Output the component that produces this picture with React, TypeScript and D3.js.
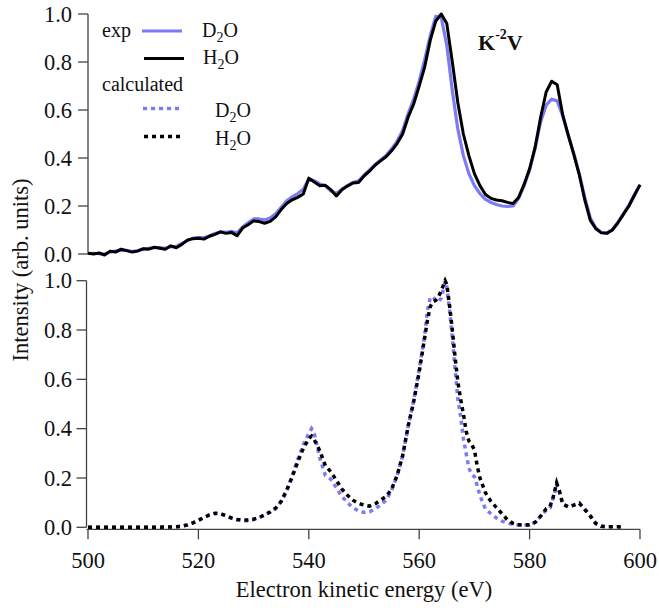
import React from "react";
import * as d3 from "d3";

// Experimental K^-2V Auger spectra, 1 eV grid from 500 to 600 eV
const expEnergy = d3.range(500, 601, 1);

const expH2O = [
  0.003, 0.0, 0.004, -0.004, 0.012, 0.008, 0.02, 0.014, 0.008, 0.012,
  0.022, 0.02, 0.028, 0.024, 0.02, 0.034, 0.026, 0.04, 0.058, 0.064,
  0.066, 0.062, 0.074, 0.082, 0.092, 0.086, 0.09, 0.076, 0.108, 0.122,
  0.138, 0.135, 0.128, 0.136, 0.155, 0.185, 0.21, 0.226, 0.236, 0.25,
  0.316, 0.3, 0.284, 0.286, 0.268, 0.242, 0.268, 0.283, 0.296, 0.298,
  0.325, 0.345, 0.37, 0.388, 0.405, 0.43, 0.46, 0.5, 0.57, 0.625,
  0.7, 0.78, 0.89, 0.97, 1.0, 0.96, 0.8, 0.63, 0.5, 0.41,
  0.335, 0.285, 0.248, 0.232, 0.225, 0.222, 0.215, 0.21, 0.235, 0.29,
  0.355, 0.445, 0.57, 0.675, 0.72, 0.705, 0.58, 0.495, 0.415, 0.33,
  0.225, 0.14, 0.105, 0.088, 0.086, 0.1, 0.13, 0.165, 0.2, 0.245,
  0.288,
];

const expD2O = [
  0.002, 0.003, 0.001, 0.0, 0.008, 0.012, 0.016, 0.015, 0.01, 0.014,
  0.02, 0.024, 0.026, 0.027, 0.024, 0.03, 0.032, 0.044, 0.056, 0.066,
  0.068, 0.068, 0.076, 0.085, 0.092, 0.09, 0.094, 0.088, 0.112, 0.13,
  0.146, 0.146, 0.142, 0.15, 0.168, 0.195, 0.222, 0.238, 0.252, 0.27,
  0.312, 0.305, 0.292, 0.284, 0.262, 0.252, 0.27, 0.285, 0.298, 0.305,
  0.328, 0.35, 0.372, 0.392, 0.41, 0.438, 0.47, 0.515, 0.585, 0.645,
  0.72, 0.81, 0.91, 0.99, 0.985, 0.87, 0.68, 0.52, 0.41, 0.335,
  0.285, 0.252, 0.228, 0.215, 0.206, 0.2, 0.198, 0.2, 0.232, 0.285,
  0.35, 0.44, 0.55, 0.62, 0.645, 0.638, 0.575, 0.495, 0.42, 0.335,
  0.235, 0.15, 0.108, 0.09, 0.088, 0.102, 0.132, 0.168, 0.205, 0.248,
  0.29,
];

// Calculated spectra
const calcEnergy = [
  500, 505, 510, 515, 517, 518, 519, 520, 521, 522, 523, 524, 525, 526, 527,
  528, 529, 530, 531, 532, 533, 534, 535, 536, 537, 538, 539, 540, 540.5, 541,
  542, 543, 544, 545, 546, 547, 548, 549, 550, 551, 552, 553, 554, 555, 556,
  557, 558, 559, 560, 561, 561.5, 562, 562.5, 563, 563.5, 564, 564.7, 565,
  565.5, 566, 566.5, 567, 567.5, 568, 568.5, 569, 569.5, 570, 570.5, 571,
  571.5, 572, 573, 574, 575, 576, 577, 578, 579, 580, 581, 582, 583, 583.7,
  584.3, 584.9, 585.5, 586, 587, 588, 589, 590, 591, 592, 593, 594, 595, 596,
  596.7,
];

const calcH2O = [
  0, 0, 0, 0.001, 0.004, 0.01, 0.018, 0.028, 0.04, 0.05, 0.056, 0.055, 0.047,
  0.038, 0.032, 0.03, 0.03, 0.033, 0.04, 0.05, 0.062, 0.078, 0.105, 0.15,
  0.205, 0.265, 0.32, 0.36, 0.37, 0.355, 0.31, 0.25, 0.225, 0.19, 0.155, 0.13,
  0.11, 0.097, 0.09, 0.086, 0.095, 0.11, 0.125, 0.155, 0.21, 0.29, 0.41, 0.51,
  0.63, 0.77, 0.84, 0.895, 0.915, 0.92, 0.935, 0.96, 1.0, 0.985, 0.9, 0.8,
  0.69, 0.59, 0.52, 0.46, 0.39, 0.35, 0.335, 0.315, 0.25, 0.2, 0.17, 0.14,
  0.105, 0.08, 0.055, 0.03, 0.016, 0.01, 0.009, 0.01, 0.02, 0.045, 0.075,
  0.085, 0.125, 0.18, 0.14, 0.095, 0.083, 0.09, 0.098, 0.072, 0.045, 0.015,
  0.004, 0.002, 0.002, 0.002, 0.001,
];

const calcD2O = [
  0, 0, 0, 0.001, 0.004, 0.01, 0.018, 0.028, 0.04, 0.05, 0.058, 0.056, 0.046,
  0.036, 0.03, 0.027, 0.027, 0.031, 0.039, 0.05, 0.062, 0.076, 0.105, 0.15,
  0.21, 0.275, 0.335, 0.38, 0.4, 0.38, 0.28, 0.21, 0.195, 0.16, 0.125, 0.1,
  0.08, 0.067, 0.06, 0.063, 0.075, 0.09, 0.11, 0.15, 0.21, 0.29, 0.41, 0.515,
  0.64, 0.78, 0.88, 0.93, 0.935, 0.92, 0.915, 0.93, 0.995, 0.975, 0.88, 0.77,
  0.64, 0.52, 0.45, 0.36, 0.3, 0.24, 0.215, 0.205, 0.17, 0.13, 0.1, 0.075,
  0.055, 0.038, 0.025, 0.017, 0.012, 0.01, 0.009, 0.01, 0.02, 0.045, 0.07,
  0.078, 0.12, 0.175, 0.135, 0.092, 0.083, 0.09, 0.098, 0.075, 0.048, 0.016,
  0.004, 0.002, 0.002, 0.002, 0.001,
];

const xTicks = [500, 520, 540, 560, 580, 600];
const yTicks = [0, 0.2, 0.4, 0.6, 0.8, 1.0];

const W = 659;
const H = 608;
const BLUE = "#7b7bf5";
const AXIS = "#444";
const TXT = { fontFamily: '"Liberation Serif"' };

const x = d3.scaleLinear().domain([500, 600]).range([88, 640]);
const yTop = d3.scaleLinear().domain([0, 1]).range([254, 14]);
const yBot = d3.scaleLinear().domain([0, 1]).range([527.3, 280.7]);

function path(
  xs: number[],
  ys: number[],
  y: d3.ScaleLinear<number, number>
): string {
  const pts = xs.map((e, i) => [e, ys[i]] as [number, number]);
  return (
    d3
      .line<[number, number]>()
      .x((d) => x(d[0]))
      .y((d) => y(d[1]))(pts) || ""
  );
}

function YAxis({ y, axisX }: { y: d3.ScaleLinear<number, number>; axisX: number }) {
  const fmt = d3.format(".1f");
  return (
    <g>
      <line x1={axisX} x2={axisX} y1={y(1)} y2={y(0)} stroke={AXIS} strokeWidth={1.3} />
      {yTicks.map((t) => (
        <g key={t}>
          <line x1={axisX - 10} x2={axisX} y1={y(t)} y2={y(t)} stroke={AXIS} strokeWidth={1.3} />
          <text x={72} y={y(t)} dy="0.34em" textAnchor="end" fontSize={22.5} fill="#111" style={TXT}>
            {fmt(t)}
          </text>
        </g>
      ))}
    </g>
  );
}

function Chem({ a, b, x: tx, y: ty }: { a: string; b: string; x: number; y: number }) {
  return (
    <text x={tx} y={ty} fontSize={20} fill="#111" style={TXT}>
      {a}
      <tspan fontSize={14} dy={5}>
        2
      </tspan>
      <tspan dy={-5}>{b}</tspan>
    </text>
  );
}

export default function App() {
  const axisY = 529.3;
  return (
    <svg width={W} height={H} style={{ position: "absolute", left: 0, top: 0, background: "#fff" }}>
      {/* top panel: experiment */}
      <YAxis y={yTop} axisX={88} />
      <path d={path(expEnergy, expD2O, yTop)} fill="none" stroke={BLUE} strokeWidth={3.2} strokeLinejoin="round" />
      <path d={path(expEnergy, expH2O, yTop)} fill="none" stroke="#000" strokeWidth={3} strokeLinejoin="round" />

      {/* bottom panel: calculation */}
      <YAxis y={yBot} axisX={86.5} />
      <line x1={86.5} x2={640} y1={axisY} y2={axisY} stroke={AXIS} strokeWidth={1.3} />
      {xTicks.map((t) => (
        <g key={t}>
          <line x1={x(t)} x2={x(t)} y1={axisY} y2={axisY + 10} stroke={AXIS} strokeWidth={1.3} />
          <text x={x(t)} y={568} textAnchor="middle" fontSize={22.5} fill="#111" style={TXT}>
            {t}
          </text>
        </g>
      ))}
      <path d={path(calcEnergy, calcD2O, yBot)} fill="none" stroke={BLUE} strokeWidth={3.5} strokeDasharray="4 4" />
      <path d={path(calcEnergy, calcH2O, yBot)} fill="none" stroke="#000" strokeWidth={3.5} strokeDasharray="4 4" />

      {/* axis titles */}
      <text x={364} y={597} textAnchor="middle" fontSize={22.5} fill="#111" style={TXT}>
        Electron kinetic energy (eV)
      </text>
      <text
        transform="translate(28,270) rotate(-90)"
        textAnchor="middle"
        fontSize={22.5}
        fill="#111"
        style={TXT}
      >
        Intensity (arb. units)
      </text>

      {/* transition label */}
      <text x={478} y={50} fontSize={22} fontWeight="bold" fill="#111" style={TXT}>
        K
        <tspan fontSize={14} dy={-11}>
          -2
        </tspan>
        <tspan dy={11}>V</tspan>
      </text>

      {/* legend */}
      <text x={102} y={37} fontSize={20} fill="#111" style={TXT}>
        exp
      </text>
      <line x1={142} x2={182} y1={31} y2={31} stroke={BLUE} strokeWidth={3.2} />
      <Chem a="D" b="O" x={202} y={37} />
      <line x1={144} x2={184} y1={58.5} y2={58.5} stroke="#000" strokeWidth={3} />
      <Chem a="H" b="O" x={203} y={64} />
      <text x={102} y={91} fontSize={20} fill="#111" style={TXT}>
        calculated
      </text>
      <line x1={143} x2={183} y1={108.5} y2={108.5} stroke={BLUE} strokeWidth={3.5} strokeDasharray="4 4" />
      <Chem a="D" b="O" x={215} y={117} />
      <line x1={144} x2={184} y1={136.5} y2={136.5} stroke="#000" strokeWidth={3.5} strokeDasharray="4 4" />
      <Chem a="H" b="O" x={215} y={145} />
    </svg>
  );
}
